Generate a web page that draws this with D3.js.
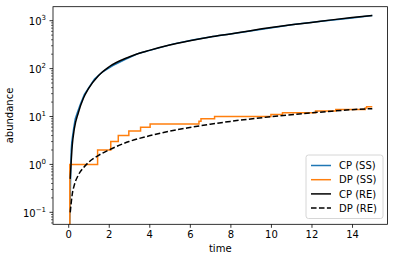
<!DOCTYPE html>
<html>
<head>
<meta charset="utf-8">
<script src="https://cdn.jsdelivr.net/npm/d3@7"></script>
<style>
  body { margin: 0; background: #fff; }
  svg { display: block; }
  text { font-family: "DejaVu Sans", sans-serif; }
</style>
</head>
<body>
<div id="chart"></div>
<script>
// rate equation solution (smooth)
const reTime = [0.1, 0.2, 0.3, 0.5, 0.75, 1, 1.5, 2, 3, 4, 5, 6, 7, 8, 9, 10, 11, 12, 13, 14, 15];
const cpRE = [0.5, 2.5, 5.5, 12, 24, 38, 72, 108, 175, 240, 310, 380, 455, 530, 620, 720, 820, 920, 1040, 1160, 1280];
const dpRE = [0.1, 0.24, 0.37, 0.6, 0.85, 1.1, 1.55, 2.0, 3.0, 3.95, 4.95, 5.9, 6.9, 7.9, 8.9, 9.9, 10.9, 11.9, 12.9, 13.9, 14.6];

// stochastic simulation
const cpSSTime = [0, 0.13, 0.15, 0.18, 0.22, 0.28, 0.35, 0.45, 0.6, 0.8, 1.0, 1.3, 1.7, 2.2, 2.8, 3.5, 4.3, 5.2, 6.2, 7.3, 8.5, 9.8, 11.2, 12.6, 14, 15];
const cpSS = [0, 1, 2, 3, 4, 6, 9, 12, 18, 29, 39, 61, 86, 116, 155, 210, 258, 328, 400, 480, 566, 690, 838, 990, 1140, 1290];
const dpSSTime = [0, 0.08, 1.45, 2.1, 2.47, 2.99, 3.57, 4.04, 6.45, 6.55, 7.22, 10.0, 10.57, 12.2, 13.2, 14.65, 14.72, 15];
const dpSS = [0, 1, 2, 3, 4, 5, 6, 7, 8, 9, 10, 11, 12, 13, 14, 15, 16, 16];

const xTicks = [0, 2, 4, 6, 8, 10, 12, 14];
const yTicks = [-1, 0, 1, 2, 3];
const legendLabels = ["CP (SS)", "DP (SS)", "CP (RE)", "DP (RE)"];

const W = 394, H = 262;
const mLeft = 53, mRight = 387.5, mTop = 6.7, mBottom = 224.3;

const svg = d3.select("#chart").append("svg")
  .attr("width", W).attr("height", H);

const x = d3.scaleLinear().domain([-0.75, 15.75]).range([mLeft, mRight]);
const y = d3.scaleLog().domain([Math.pow(10, -1.25), Math.pow(10, 3.292)]).range([mBottom, mTop]);
const floor = 1e-3; // zero counts drop off the bottom of a log axis

svg.append("clipPath").attr("id", "clip")
  .append("rect").attr("x", mLeft).attr("y", mTop)
  .attr("width", mRight - mLeft).attr("height", mBottom - mTop);

const plot = svg.append("g").attr("clip-path", "url(#clip)");

function series(ts, vs) {
  return ts.map((t, i) => ({ t: t, v: vs[i] }));
}

const smooth = d3.line().x(d => x(d.t)).y(d => y(Math.max(d.v, floor))).curve(d3.curveMonotoneX);
const step = d3.line().x(d => x(d.t)).y(d => y(Math.max(d.v, floor))).curve(d3.curveStepAfter);
const straight = d3.line().x(d => x(d.t)).y(d => y(Math.max(d.v, floor)));

plot.append("path").attr("d", straight(series(cpSSTime, cpSS)))
  .attr("fill", "none").attr("stroke", "#1f77b4").attr("stroke-width", 1.5);
plot.append("path").attr("d", step(series(dpSSTime, dpSS)))
  .attr("fill", "none").attr("stroke", "#ff7f0e").attr("stroke-width", 1.5);
plot.append("path").attr("d", smooth(series(reTime, cpRE)))
  .attr("fill", "none").attr("stroke", "#000").attr("stroke-width", 1.5);
plot.append("path").attr("d", smooth(series(reTime, dpRE)))
  .attr("fill", "none").attr("stroke", "#000").attr("stroke-width", 1.5)
  .attr("stroke-dasharray", "5.55,2.4");

// x axis
const xAxis = svg.append("g").attr("transform", `translate(0,${mBottom})`)
  .call(d3.axisBottom(x).tickValues(xTicks).tickSize(3.5).tickPadding(3.5).tickFormat(d3.format("d")));
xAxis.select(".domain").remove();
xAxis.selectAll("text").attr("font-size", 10).attr("fill", "#000");
xAxis.selectAll("line").attr("stroke", "#000").attr("stroke-width", 0.8);

// y axis: majors with 10^n labels, minors between
const minors = [];
for (let d = -2; d <= 3; d++) {
  for (let k = 2; k <= 9; k++) {
    const v = k * Math.pow(10, d);
    if (v >= y.domain()[0] && v <= y.domain()[1]) minors.push(v);
  }
}
const yg = svg.append("g");
yg.selectAll("line.minor").data(minors).enter().append("line")
  .attr("x1", mLeft - 2).attr("x2", mLeft)
  .attr("y1", d => y(d)).attr("y2", d => y(d))
  .attr("stroke", "#000").attr("stroke-width", 0.6);
yg.selectAll("line.major").data(yTicks).enter().append("line")
  .attr("x1", mLeft - 3.5).attr("x2", mLeft)
  .attr("y1", d => y(Math.pow(10, d))).attr("y2", d => y(Math.pow(10, d)))
  .attr("stroke", "#000").attr("stroke-width", 0.8);
const ylab = yg.selectAll("text").data(yTicks).enter().append("text")
  .attr("x", mLeft - 7).attr("y", d => y(Math.pow(10, d)) + 4.5)
  .attr("text-anchor", "end").attr("font-size", 10).attr("fill", "#000");
ylab.append("tspan").text("10");
ylab.append("tspan").attr("font-size", 7).attr("dy", -5)
  .text(d => d < 0 ? "\u2212" + Math.abs(d) : String(d));

// frame
svg.append("rect").attr("x", mLeft).attr("y", mTop)
  .attr("width", mRight - mLeft).attr("height", mBottom - mTop)
  .attr("fill", "none").attr("stroke", "#000").attr("stroke-width", 0.8);

// axis labels
svg.append("text").attr("x", (mLeft + mRight) / 2).attr("y", 252)
  .attr("text-anchor", "middle").attr("font-size", 10).text("time");
svg.append("text").attr("transform", `translate(13,${(mTop + mBottom) / 2}) rotate(-90)`)
  .attr("text-anchor", "middle").attr("font-size", 10).text("abundance");

// legend
const lg = svg.append("g");
lg.append("rect").attr("x", 306).attr("y", 155).attr("width", 77).attr("height", 63.5)
  .attr("rx", 2.5).attr("fill", "#fff").attr("fill-opacity", 0.8)
  .attr("stroke", "#cccccc").attr("stroke-width", 0.8);
const legendStyle = [
  { c: "#1f77b4", dash: null },
  { c: "#ff7f0e", dash: null },
  { c: "#000", dash: null },
  { c: "#000", dash: "5.55,2.4" }
];
legendLabels.forEach((lab, i) => {
  const yy = 165.5 + i * 14.2;
  lg.append("line").attr("x1", 311).attr("x2", 331).attr("y1", yy).attr("y2", yy)
    .attr("stroke", legendStyle[i].c).attr("stroke-width", 1.5)
    .attr("stroke-dasharray", legendStyle[i].dash);
  lg.append("text").attr("x", 339).attr("y", yy + 3.6).attr("font-size", 10).text(lab);
});
</script>
</body>
</html>
